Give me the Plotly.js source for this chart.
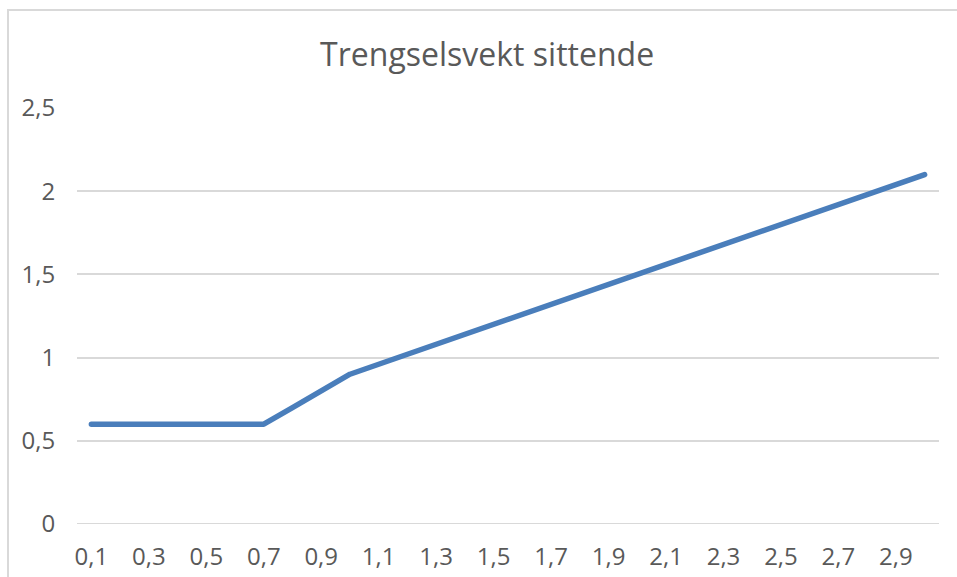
<!DOCTYPE html>
<html>
<head>
<meta charset="utf-8">
<script src="https://cdn.plot.ly/plotly-3.0.1.min.js"></script>
<style>
  html, body { margin: 0; padding: 0; background: #ffffff; }
  #wrap { position: relative; width: 957px; height: 577px; overflow: hidden; }
  #plot { position: absolute; left: 0; top: 0; width: 957px; height: 577px; }
  #frame { position: absolute; left: 7px; top: 9px; width: 970px; height: 600px;
           border: 2px solid #d9d9d9; pointer-events: none; }
  .scatterlayer path.js-line { stroke-linecap: round; stroke-linejoin: round; }
</style>
</head>
<body>
<div id="wrap">
  <div id="plot"></div>
  <div id="frame"></div>
</div>
<script>
// Categories on the x axis (Excel-style, comma decimals)
let xLabels = ["0,1", "0,2", "0,3", "0,4", "0,5", "0,6", "0,7", "0,8", "0,9", "1,0",
               "1,1", "1,2", "1,3", "1,4", "1,5", "1,6", "1,7", "1,8", "1,9", "2,0",
               "2,1", "2,2", "2,3", "2,4", "2,5", "2,6", "2,7", "2,8", "2,9", "3,0"];

// Crowding weight, seated
let weights = [0.6, 0.6, 0.6, 0.6, 0.6, 0.6, 0.6, 0.7, 0.8, 0.9,
               0.96, 1.02, 1.08, 1.14, 1.2, 1.26, 1.32, 1.38, 1.44, 1.5,
               1.56, 1.62, 1.68, 1.74, 1.8, 1.86, 1.92, 1.98, 2.04, 2.1];

// Only every other category gets a label
let shownTicks = [];
for (let i = 0; i < xLabels.length; i += 2) {
  shownTicks.push(xLabels[i]);
}

let trace1 = {
  x: xLabels,
  y: weights,
  type: "scatter",
  mode: "lines",
  line: { color: "#4a7ebb", width: 5.5 },
  hoverinfo: "skip"
};

let layout = {
  width: 957,
  height: 577,
  separators: ", ",
  paper_bgcolor: "rgba(0,0,0,0)",
  plot_bgcolor: "rgba(0,0,0,0)",
  showlegend: false,
  font: { family: "Open Sans, sans-serif", color: "#595959", size: 24 },
  title: {
    text: "Trengselsvekt sittende",
    font: { family: "Open Sans, sans-serif", size: 32, color: "#595959" },
    xref: "container",
    x: 0.509,
    xanchor: "center",
    y: 0.905,
    yanchor: "middle"
  },
  margin: { l: 77, r: 18, t: 108, b: 53, pad: 0 },
  xaxis: {
    type: "category",
    range: [-0.5, xLabels.length - 0.5],
    tickmode: "array",
    tickvals: shownTicks,
    ticktext: shownTicks,
    showgrid: false,
    zeroline: false,
    showline: false,
    ticks: "outside",
    ticklen: 11,
    tickcolor: "rgba(0,0,0,0)",
    tickangle: 0,
    tickfont: { size: 24, color: "#595959" },
    fixedrange: true
  },
  yaxis: {
    range: [0, 2.5],
    tickvals: [0, 0.5, 1, 1.5, 2, 2.5],
    ticktext: ["0", "0,5", "1", "1,5", "2", "2,5"],
    showgrid: true,
    gridcolor: "#d9d9d9",
    gridwidth: 2,
    zeroline: false,
    showline: false,
    ticks: "outside",
    ticklen: 16,
    tickcolor: "rgba(0,0,0,0)",
    tickfont: { size: 24, color: "#595959" },
    fixedrange: true
  }
};

// y=0 grid line (zeroline is off), drawn as a shape
layout.shapes = [{
  type: "line", xref: "paper", yref: "y",
  x0: 0, x1: 1, y0: 0, y1: 0,
  line: { color: "#d9d9d9", width: 2 },
  layer: "below"
}];

Plotly.newPlot("plot", [trace1], layout, { displayModeBar: false, staticPlot: true });
</script>
</body>
</html>
